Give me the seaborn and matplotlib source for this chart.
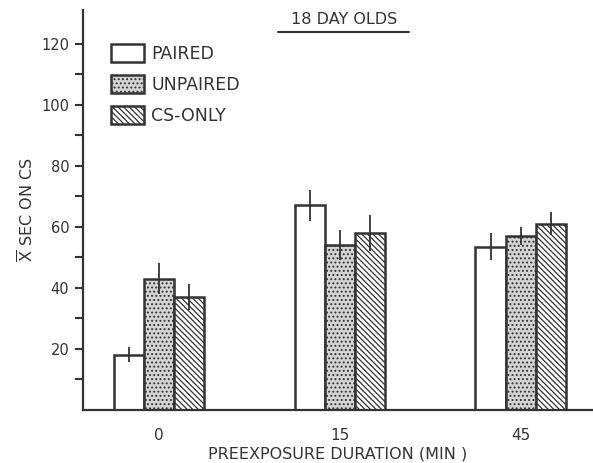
import numpy as np
import pandas as pd
import matplotlib.pyplot as plt
import seaborn as sns
from matplotlib.patches import Patch
from matplotlib.lines import Line2D

# datos
durations = ['0', '15', '45']
groups = ['PAIRED', 'UNPAIRED', 'CS-ONLY']
paired = [18, 67, 53.5]
unpaired = [43, 54, 57]
cs_only = [37, 58, 61]
paired_err = [2.5, 5, 4.3]
unpaired_err = [5, 4.8, 3]
cs_only_err = [4.2, 6, 3.8]
ytick_vals = [10, 20, 30, 40, 50, 60, 70, 80, 90, 100, 110, 120]
ytick_labels = ['', '20', '', '40', '', '60', '', '80', '', '100', '', '120']

df = pd.DataFrame({
    'duration': durations * 3,
    'group': np.repeat(groups, 3),
    'sec': paired + unpaired + cs_only,
    'err': paired_err + unpaired_err + cs_only_err,
})

sns.set_style('ticks')
plt.rcParams['font.family'] = ['DejaVu Sans']
plt.rcParams['mathtext.fontset'] = 'dejavusans'
plt.rcParams['hatch.linewidth'] = 0.9
ink = '#333333'

fig, ax = plt.subplots(figsize=(5.93, 4.63), dpi=100)
fig.subplots_adjust(left=0.14, right=1.0, bottom=0.115, top=0.978)

sns.barplot(data=df, x='duration', y='sec', hue='group', order=durations,
            hue_order=groups, width=0.5, errorbar=None, legend=False,
            palette=['white'] * 3, ax=ax)

styles = [
    dict(facecolor='white', hatch=None),
    dict(facecolor='#d4d4d4', hatch='....'),
    dict(facecolor='white', hatch='\\\\\\\\\\\\'),
]

bar_groups = list(ax.containers)
for i, cont in enumerate(bar_groups):
    errs = df[df['group'] == groups[i]]['err'].values
    for bar, e in zip(cont, errs):
        bar.set_facecolor(styles[i]['facecolor'])
        bar.set_hatch(styles[i]['hatch'])
        bar.set_edgecolor(ink)
        bar.set_linewidth(1.8)
        xc = bar.get_x() + bar.get_width() / 2
        ax.errorbar(xc, bar.get_height(), yerr=e, fmt='none', ecolor=ink,
                    elinewidth=1.3, capsize=0, zorder=5)

ax.set_xlim(-0.42, 2.4)
ax.set_ylim(0, 131)
ax.set_yticks(ytick_vals)
ax.set_yticklabels(ytick_labels)
ax.tick_params(axis='y', direction='out', length=6, width=1.5, color=ink,
               labelcolor=ink, labelsize=10.5, pad=4)
ax.tick_params(axis='x', length=0, labelcolor=ink, labelsize=11, pad=13)
sns.despine(ax=ax)
for s in ['left', 'bottom']:
    ax.spines[s].set_color(ink)
    ax.spines[s].set_linewidth(1.6)

ax.set_xlabel('PREEXPOSURE DURATION (MIN )', fontsize=11.5, color=ink, labelpad=3)
ax.set_ylabel(r'$\overline{\mathrm{X}}$ SEC ON CS', fontsize=11.5, color=ink, labelpad=3)

# titulo subrayado
fig.text(0.58, 0.957, '18 DAY OLDS', ha='center', va='center', fontsize=11.5, color=ink)
fig.add_artist(Line2D([0.469, 0.690], [0.931, 0.931], color=ink, lw=1.5))

handles = [Patch(facecolor=st['facecolor'], hatch=st['hatch'], edgecolor=ink, linewidth=1.8)
           for st in styles]
ax.legend(handles, groups, loc='upper left', bbox_to_anchor=(0.188, 0.904),
          bbox_transform=fig.transFigure, frameon=False, fontsize=12.5,
          handlelength=1.85, handleheight=1.15, labelspacing=0.72,
          handletextpad=0.45, borderpad=0, borderaxespad=0, labelcolor=ink)

plt.savefig('out.png', dpi=100)
